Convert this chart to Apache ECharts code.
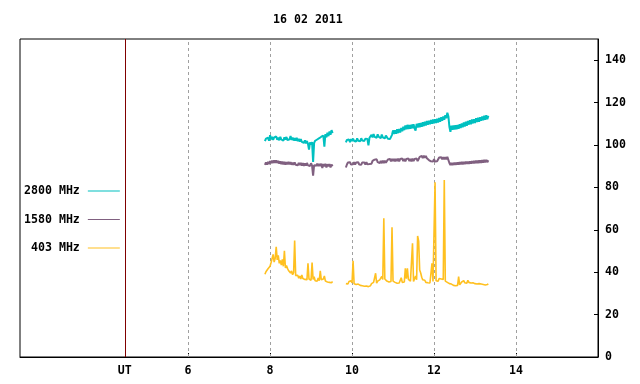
<!DOCTYPE html>
<html><head><meta charset="utf-8">
<script src="https://cdn.jsdelivr.net/npm/echarts@6/dist/echarts.min.js"></script>
<style>html,body{margin:0;padding:0;background:#fff}#c{width:640px;height:384px}</style>
</head><body><div id="c"></div>
<script>
// ---- data ----
const titleText = '16 02 2011';
const seriesNames = ['2800 MHz', '1580 MHz', '403 MHz'];
const xTickValues = [6, 8, 10, 12, 14];
const utPosition = 4.456;
const yTickValues = [0, 20, 40, 60, 80, 100, 120, 140];
const seg1Start = 7.875, seg2Start = 9.85, sampleStep = 0.025;

const teal1 = [101.8,103.0,102.2,103.4,102.0,104.6,102.6,103.8,102.4,103.6,102.8,104.0,102.5,103.5,102.2,103.9,102.6,103.2,102.0,103.6,102.5,103.8,102.3,103.1,102.7,104.2,102.4,103.5,102.1,103.3,102.0,103.4,101.8,102.9,101.6,102.8,101.5,102.4,101.0,102.2,100.8,101.9,100.5,97.8,101.2,100.2,101.4,92.0,101.0,102.0,101.2,102.6,101.8,103.2,102.6,103.9,103.0,104.4,99.2,105.2,103.6,105.8,104.2,106.4,104.8,107.0,105.6];
const teal2 = [101.2,102.4,101.6,102.6,101.3,102.8,101.8,103.0,101.9,102.5,101.7,103.1,102.0,102.9,101.8,103.2,102.1,102.7,101.9,103.0,102.2,102.8,99.8,103.4,102.8,104.8,103.6,105.2,103.8,104.6,103.4,105.0,103.9,104.4,103.2,104.9,103.6,104.3,103.1,104.5,103.7,102.9,103.8,102.8,103.6,
  104.8,106.9,105.2,107.0,105.3,107.4,105.6,107.5,105.9,108.0,106.5,108.6,107.0,109.2,107.4,109.5,107.6,109.4,107.7,109.6,107.9,109.8,107.9,106.8,110.0,108.3,110.2,108.4,110.4,108.6,110.7,108.9,111.0,109.2,111.3,109.5,111.5,109.8,111.8,110.0,112.0,110.2,112.2,110.4,112.4,110.6,112.7,111.0,113.1,111.4,113.5,111.9,114.0,112.6,115.2,113.6,
  108.6,106.2,109.1,107.2,109.2,107.3,109.3,107.4,109.4,107.7,109.8,108.0,110.2,108.4,110.6,108.7,111.0,109.1,111.4,109.6,111.7,109.8,112.0,110.2,112.2,110.4,112.6,110.8,112.9,111.0,113.1,111.4,113.4,111.7,113.8,111.9,114.0,112.2,113.8];
const purple1 = [90.6,91.8,90.8,92.0,91.0,92.4,91.4,92.6,91.5,92.8,91.6,92.8,91.5,92.5,91.2,92.3,91.0,92.1,90.9,92.0,90.8,91.9,90.9,92.0,90.9,91.9,90.7,91.7,90.6,91.8,90.7,91.6,90.4,91.5,90.5,91.6,90.3,91.4,90.2,91.3,90.3,91.5,90.4,91.3,90.1,91.4,90.3,85.6,90.5,91.4,90.2,91.2,90.0,91.1,90.1,91.2,89.2,91.0,90.0,91.1,89.4,90.9,89.9,91.0,89.4,90.8,90.0];
const purple2 = [89.4,
  90.8,91.8,90.9,91.9,90.8,91.7,90.9,91.9,90.7,91.8,90.9,91.9,90.8,91.7,90.7,91.8,90.9,91.8,90.8,91.9,90.9,91.7,91.0,91.9,
  91.2,92.5,91.8,93.1,92.2,93.3,91.9,
  92.4,91.5,92.5,91.4,92.6,91.5,92.6,91.6,
  92.2,93.2,92.4,93.4,92.3,93.5,92.4,93.4,92.3,93.5,92.4,93.6,92.3,93.4,92.5,93.6,92.4,93.5,92.3,93.4,92.5,93.6,92.4,93.5,92.3,93.6,92.4,93.4,92.5,93.6,92.4,
  93.4,94.4,93.7,94.8,93.8,95.0,93.9,94.9,93.8,94.4,
  92.9,93.3,92.3,93.2,92.2,93.3,92.2,93.1,92.3,
  93.1,94.1,93.2,94.2,93.2,94.3,93.3,94.3,93.3,94.4,93.5,
  91.5,90.5,91.6,90.5,91.6,90.6,91.7,90.7,91.8,90.8,91.9,90.9,92.0,90.9,92.0,91.0,92.1,91.1,92.2,91.1,92.3,91.2,92.4,91.3,92.5,91.4,92.6,91.4,92.7,91.5,92.8,91.6,92.9,91.7,93.0,91.8,93.0,91.9,92.8];
const orange1 = [39.0,40.2,39.6,41.6,41.0,42.8,44.6,45.4,48.4,44.8,46.6,52.0,45.8,48.0,44.2,45.6,43.4,46.0,42.8,50.1,42.0,43.2,41.8,40.8,41.4,39.6,40.6,38.8,39.8,54.9,38.4,37.8,38.6,37.2,38.2,36.8,38.7,37.0,37.6,36.6,37.4,36.4,44.2,36.8,37.2,36.2,44.5,36.6,37.9,36.0,36.8,35.8,37.2,36.0,40.6,36.4,35.6,36.8,38.2,35.8,36.6,35.4,36.2,35.2,36.0,35.0,35.6];
const orange2 = [34.6,35.2,34.4,35.6,34.8,36.0,35.0,45.4,34.6,35.4,34.2,35.0,34.4,34.9,33.8,34.4,33.6,34.2,33.4,34.0,33.5,33.8,33.2,34.0,33.6,34.6,34.0,35.2,34.4,39.5,34.8,35.8,35.0,36.4,35.6,38.0,36.6,65.4,36.8,37.2,35.8,36.6,35.4,36.2,35.6,61.2,35.8,36.4,35.2,35.8,34.8,35.6,34.9,35.4,37.4,35.2,36.0,35.4,41.8,37.0,41.8,36.6,37.4,35.8,36.4,53.6,35.6,36.0,38.2,36.4,57.1,54.7,41.0,39.6,37.6,36.4,35.6,36.2,35.2,35.8,35.0,35.6,34.9,35.8,44.2,35.6,36.2,82.4,36.0,36.8,35.8,37.0,36.2,36.8,35.9,36.6,83.5,35.8,36.4,35.2,35.8,34.6,35.2,34.4,35.0,33.8,34.6,33.6,34.2,33.8,37.9,34.0,34.8,35.4,34.6,36.0,35.0,35.8,34.8,36.2,35.2,35.8,34.9,35.6,35.0,35.4,34.6,35.2,34.4,35.0,34.6,35.2,34.4,34.8,34.2,34.8,34.0,34.6,34.2,34.5];

const colors = ['#00c0c0', '#806080', '#ffc020'];
const widths = [2, 2, 1.6];

function build(a, b) {
  const d = a.map((v, i) => [seg1Start + i * sampleStep, v]);
  d.push([(seg1Start + a.length * sampleStep + seg2Start) / 2, '-']);
  b.forEach((v, j) => d.push([seg2Start + j * sampleStep, v]));
  return d;
}
const dataSets = [build(teal1, teal2), build(purple1, purple2), build(orange1, orange2)];

const FONT = 'DejaVu Sans Mono';
const chart = echarts.init(document.getElementById('c'), null, {renderer: 'canvas'});
const markLines = xTickValues.map(v => ({xAxis: v, lineStyle: {color: '#a0a0a0', type: [3, 3], width: 1}}));
markLines.push({xAxis: utPosition, lineStyle: {color: '#800000', type: 'solid', width: 1}});

chart.setOption({
  animation: false,
  backgroundColor: '#fff',
  title: {text: titleText, left: 268, top: 9,
    textStyle: {fontFamily: FONT, fontWeight: 'bold', fontSize: 11.6, color: '#000'}},
  legend: {
    orient: 'vertical', left: 19, top: 179, align: 'right', itemGap: 14.5,
    itemWidth: 32, itemHeight: 1, icon: 'rect',
    formatter: n => n.padStart(8, ' '),
    textStyle: {fontFamily: FONT, fontWeight: 'bold', fontSize: 11.6, color: '#000', lineHeight: 14, padding: [0, 3, 0, 0]},
    data: seriesNames
  },
  grid: {left: 20, right: 42, top: 39, bottom: 27, show: true, borderColor: '#000', borderWidth: 1, backgroundColor: 'transparent', containLabel: false, outerBoundsMode: 'none'},
  xAxis: {
    type: 'value', min: 1.9, max: 16, position: 'bottom',
    axisLine: {show: true, lineStyle: {color: '#000', width: 1}},
    axisTick: {show: true, inside: true, length: 4, customValues: xTickValues, lineStyle: {color: '#000'}},
    axisLabel: {show: true, customValues: [utPosition].concat(xTickValues), margin: 8,
      formatter: v => (Math.abs(v - utPosition) < 0.01 ? 'UT' : String(v)),
      fontFamily: FONT, fontWeight: 'bold', fontSize: 11.6, color: '#000'},
    splitLine: {show: false}
  },
  yAxis: {
    type: 'value', min: 0, max: 150, position: 'right',
    axisLine: {show: true, lineStyle: {color: '#000', width: 1}},
    axisTick: {show: true, inside: true, length: 4, customValues: yTickValues, lineStyle: {color: '#000'}},
    axisLabel: {show: true, customValues: yTickValues, margin: 7,
      fontFamily: FONT, fontWeight: 'bold', fontSize: 11.6, color: '#000'},
    splitLine: {show: false}
  },
  series: seriesNames.map((n, k) => ({
    name: n, type: 'line', data: dataSets[k], showSymbol: false, symbol: 'none',
    connectNulls: false, color: colors[k],
    lineStyle: {width: widths[k], color: colors[k], join: 'bevel'},
    z: 3,
    markLine: k === 0 ? {silent: true, symbol: ['none', 'none'], label: {show: false}, data: markLines, z: 1} : undefined
  }))
});
</script></body></html>
